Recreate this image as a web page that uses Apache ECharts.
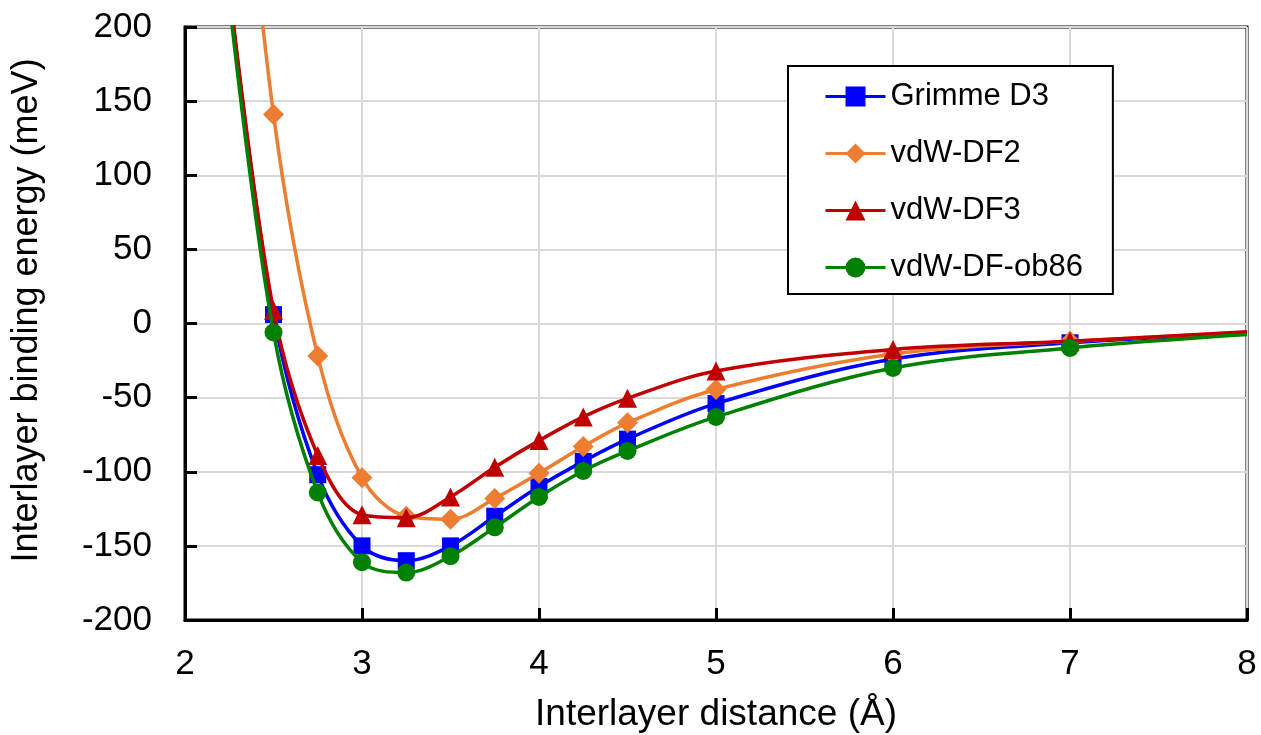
<!DOCTYPE html>
<html>
<head>
<meta charset="utf-8">
<script src="https://cdn.jsdelivr.net/npm/echarts@6/dist/echarts.min.js"></script>
<style>html,body{margin:0;padding:0;background:#fff}#c{width:1261px;height:735px}</style>
</head>
<body>
<div id="c"></div>
<script>
// Interlayer distance (Å); first and last points lie outside / on the axis range (curve continuation)
const distances = [2.25, 2.5, 2.75, 3, 3.25, 3.5, 3.75, 4, 4.25, 4.5, 5, 6, 7, 8];
const grimmeD3   = [225, 6, -102, -150, -160, -150, -130, -110, -93, -78, -54, -24, -13, -6.5];
const vdwDF2     = [430, 141, -22, -104, -130, -132, -118, -101, -83, -67, -44.5, -20.5, -12, -6];
const vdwDF3     = [228, 9, -89, -129, -131, -117, -97, -79, -63, -50.5, -32, -17.5, -12, -5.5];
const vdwDFob86  = [218, -6, -114, -161, -168, -157, -137.5, -117, -99.5, -86, -63, -30, -16.5, -7.5];
const seriesNames = ['Grimme D3', 'vdW-DF2', 'vdW-DF3', 'vdW-DF-ob86'];
const yTicks = [-200, -150, -100, -50, 0, 50, 100, 150, 200];

const FONT = 'Liberation Sans, Arial, sans-serif';

function mk(vals) {
  return distances.map((x, i) => {
    const item = { value: [x, vals[i]] };
    if (i === 0 || i === distances.length - 1) item.symbol = 'none';
    return item;
  });
}

const styles = [
  { color: '#0000FF', symbol: 'rect', size: 17 },
  { color: '#ED7D31', symbol: 'diamond', size: 21 },
  { color: '#C00000', symbol: 'triangle', size: 19 },
  { color: '#008000', symbol: 'circle', size: 18 }
];
const allVals = [grimmeD3, vdwDF2, vdwDF3, vdwDFob86];

const chart = echarts.init(document.getElementById('c'), null, { renderer: 'canvas' });
chart.setOption({
  animation: false,
  backgroundColor: '#fff',
  textStyle: { fontFamily: FONT },
  grid: {
    left: 185, right: 14, top: 27, bottom: 115,
    outerBoundsMode: 'none', containLabel: false,
    show: true, borderColor: '#000', borderWidth: 3, backgroundColor: 'transparent'
  },
  legend: {
    orient: 'vertical',
    left: 788, top: 66,
    padding: [15, 30, 11, 36],
    itemWidth: 60, itemHeight: 25, itemGap: 26,
    borderColor: '#000', borderWidth: 2, backgroundColor: '#fff',
    lineStyle: { width: 3 },
    textStyle: { fontFamily: FONT, fontSize: 31, color: '#000' },
    data: seriesNames
  },
  xAxis: {
    type: 'value', min: 2, max: 8, interval: 1,
    name: 'Interlayer distance (Å)', nameLocation: 'middle', nameGap: 76,
    nameTextStyle: { fontFamily: FONT, fontSize: 37, color: '#000' },
    axisLine: { onZero: false, lineStyle: { color: '#000', width: 3 } },
    axisTick: { inside: true, length: 12, lineStyle: { color: '#000', width: 3 } },
    axisLabel: { fontFamily: FONT, fontSize: 35, color: '#000', margin: 27 },
    splitLine: { lineStyle: { color: '#d9d9d9', width: 2 } }
  },
  yAxis: {
    type: 'value', min: -200, max: 200, interval: 50,
    name: 'Interlayer binding energy (meV)', nameLocation: 'middle', nameGap: 140, nameRotate: 90,
    nameTextStyle: { fontFamily: FONT, fontSize: 36, color: '#000', padding: [0, 0, 0, 26] },
    axisLine: { lineStyle: { color: '#000', width: 3 } },
    axisTick: { inside: true, length: 12, lineStyle: { color: '#000', width: 3 } },
    axisLabel: { fontFamily: FONT, fontSize: 35, color: '#000', margin: 33,
      formatter: v => yTicks.includes(v) ? String(v) : '' },
    splitLine: { lineStyle: { color: '#d9d9d9', width: 2 } }
  },
  series: seriesNames.map((n, k) => ({
    name: n, type: 'line', data: mk(allVals[k]),
    smooth: 0.35, clip: true,
    symbol: styles[k].symbol, symbolSize: styles[k].size,
    lineStyle: { color: styles[k].color, width: 3.5 },
    itemStyle: { color: styles[k].color },
    z: 2 + k
  }))
});
</script>
</body>
</html>
